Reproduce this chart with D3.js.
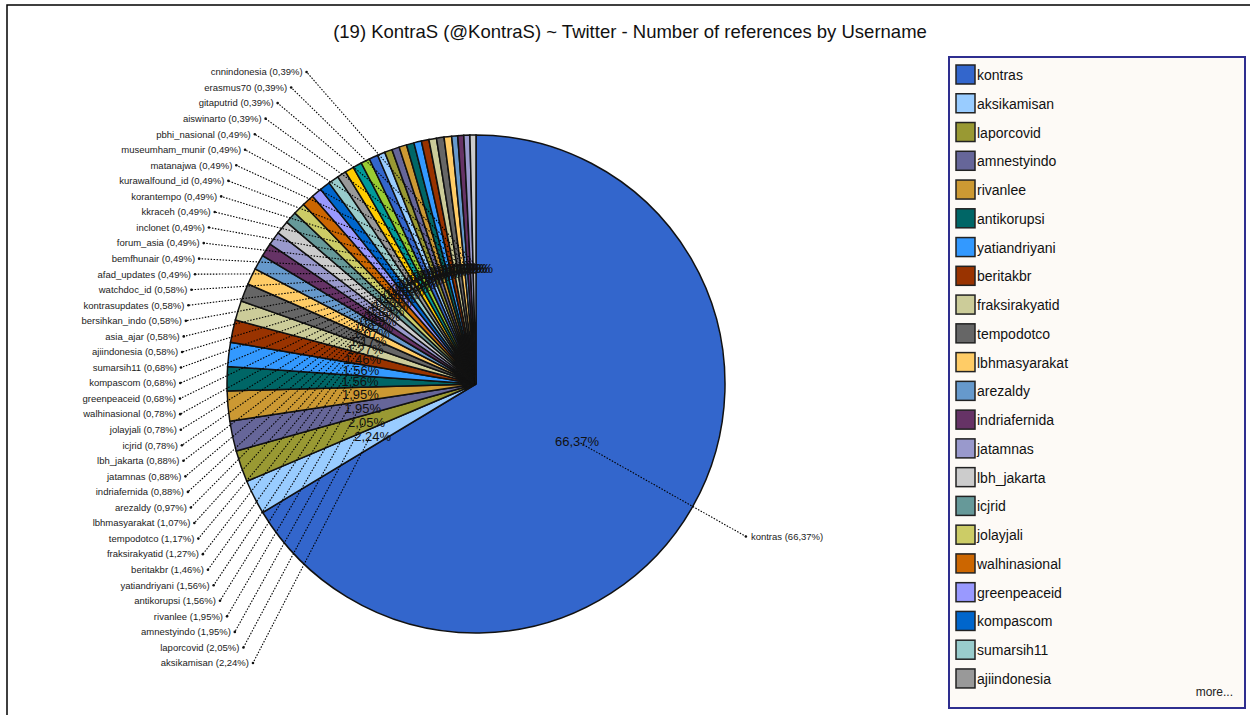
<html>
<title>KontraS - Number of references by Username</title>
<script src="https://d3js.org/d3.v7.min.js"></script>
<style>
  body { margin:0; background:white; }
  svg { font-family: "Liberation Sans", Arial, sans-serif; }
</style>
<body>
<svg width=1250 height=715></svg>
<script>
// slices, clockwise from 12 o'clock
var users = ["kontras","aksikamisan","laporcovid","amnestyindo","rivanlee","antikorupsi","yatiandriyani",
  "beritakbr","fraksirakyatid","tempodotco","lbhmasyarakat","arezaldy","indriafernida","jatamnas",
  "lbh_jakarta","icjrid","jolayjali","walhinasional","greenpeaceid","kompascom","sumarsih11","ajiindonesia",
  "asia_ajar","bersihkan_indo","kontrasupdates","watchdoc_id","afad_updates","bemfhunair","forum_asia",
  "inclonet","kkraceh","korantempo","kurawalfound_id","matanajwa","museumham_munir","pbhi_nasional",
  "aiswinarto","gitaputrid","erasmus70","cnnindonesia"];
var pcts = [66.37,2.24,2.05,1.95,1.95,1.56,1.56,1.46,1.27,1.17,1.07,0.97,0.88,0.88,0.88,0.78,0.78,0.78,
  0.68,0.68,0.68,0.58,0.58,0.58,0.58,0.58,0.49,0.49,0.49,0.49,0.49,0.49,0.49,0.49,0.49,0.49,
  0.39,0.39,0.39,0.39];
var palette = ["#3366cc","#99ccff","#999933","#666699","#cc9933","#006666","#3399ff","#993300","#cccc99",
  "#666666","#ffcc66","#6699cc","#663366","#9999cc","#cccccc","#669999","#cccc66","#cc6600","#9999ff",
  "#0066cc","#99cccc","#999999","#ffcc00","#009999","#99cc33"];
var legendCount = 22;
var title = "(19) KontraS (@KontraS) ~ Twitter - Number of references by Username";

var cx = 476, cy = 384, radius = 249;
var svg = d3.select("svg");
var fmt = function(v) { return d3.format(".2f")(v).replace(".", ",") + "%"; };
var color = d3.scaleOrdinal().domain(users).range(palette);

// chart frame (top + left edge only visible)
svg.append("path").attr("d", "M7,715V5H1250")
  .attr("fill", "none").attr("stroke", "#000").attr("stroke-width", 1.5);

svg.append("text")
  .attr("x", 630).attr("y", 38)
  .attr("text-anchor", "middle")
  .style("font-size", "18.5px")
  .style("fill", "#111")
  .text(title);

var pie = d3.pie().sort(null).value(function(d) { return d; });
var arcs = pie(pcts);
var arc = d3.arc().innerRadius(0).outerRadius(radius);

var g = svg.append("g").attr("transform", "translate(" + cx + "," + cy + ")");

g.selectAll("path.slice").data(arcs).enter().append("path")
  .attr("class", "slice")
  .attr("d", arc)
  .attr("fill", function(d, i) { return color(users[i]); })
  .attr("stroke", "#111")
  .attr("stroke-width", 1.5);

function polar(a, r) { return [r * Math.sin(a), -r * Math.cos(a)]; }
function mid(d) { return (d.startAngle + d.endAngle) / 2; }

// where the outside labels sit: left column on an ellipse, kontras on its own ray
var ly = d3.scaleLinear().domain([pcts.length - 1, 1]).range([72 - cy, 663 - cy]);
function labelPos(d, i) {
  if (i == 0) return polar(mid(d), 310);
  var y = ly(i);
  var t = (y - 16) / 400;
  return [-296 * Math.sqrt(1 - t * t), y];
}

g.selectAll("line.leader").data(arcs).enter().append("line")
  .attr("class", "leader")
  .attr("x1", function(d) { return polar(mid(d), 120)[0]; })
  .attr("y1", function(d) { return polar(mid(d), 120)[1]; })
  .attr("x2", function(d, i) { return labelPos(d, i)[0]; })
  .attr("y2", function(d, i) { return labelPos(d, i)[1]; })
  .attr("stroke", "#000")
  .attr("stroke-width", 1.1)
  .attr("stroke-dasharray", "1.5,1.5");

g.selectAll("text.inner").data(arcs).enter().append("text")
  .attr("class", "inner")
  .attr("x", function(d) { return polar(mid(d), 116)[0]; })
  .attr("y", function(d) { return polar(mid(d), 116)[1]; })
  .attr("dy", "0.35em")
  .attr("text-anchor", "middle")
  .style("font-size", "13px")
  .style("fill", "#111")
  .text(function(d) { return fmt(d.data); });

g.selectAll("circle.dot").data(arcs).enter().append("circle")
  .attr("class", "dot")
  .attr("cx", function(d, i) { return labelPos(d, i)[0]; })
  .attr("cy", function(d, i) { return labelPos(d, i)[1]; })
  .attr("r", 1.3)
  .attr("fill", "#111");

g.selectAll("text.outer").data(arcs).enter().append("text")
  .attr("class", "outer")
  .attr("x", function(d, i) { return labelPos(d, i)[0] + (i == 0 ? 5 : -4); })
  .attr("y", function(d, i) { return labelPos(d, i)[1]; })
  .attr("dy", "0.35em")
  .attr("text-anchor", function(d, i) { return i == 0 ? "start" : "end"; })
  .style("font-size", "9.5px")
  .style("fill", "#222")
  .text(function(d, i) { return users[i] + " (" + fmt(d.data) + ")"; });

// legend
var lg = svg.append("g");
lg.append("rect")
  .attr("x", 949).attr("y", 57).attr("width", 296).attr("height", 651)
  .attr("fill", "#fdfaf6").attr("stroke", "#2e2e8f").attr("stroke-width", 2);

var items = lg.selectAll("g.item").data(users.slice(0, legendCount)).enter().append("g")
  .attr("class", "item")
  .attr("transform", function(d, i) { return "translate(956," + (65 + i * 28.76) + ")"; });
items.append("rect")
  .attr("width", 19).attr("height", 19)
  .attr("fill", function(d) { return color(d); })
  .attr("stroke", "#222").attr("stroke-width", 1.5);
items.append("text")
  .attr("x", 21).attr("y", 15)
  .style("font-size", "14px")
  .style("fill", "#111")
  .text(function(d) { return d; });

lg.append("text")
  .attr("x", 1233).attr("y", 696)
  .attr("text-anchor", "end")
  .style("font-size", "12px")
  .style("fill", "#222")
  .text("more...");
</script>
</body>
</html>
